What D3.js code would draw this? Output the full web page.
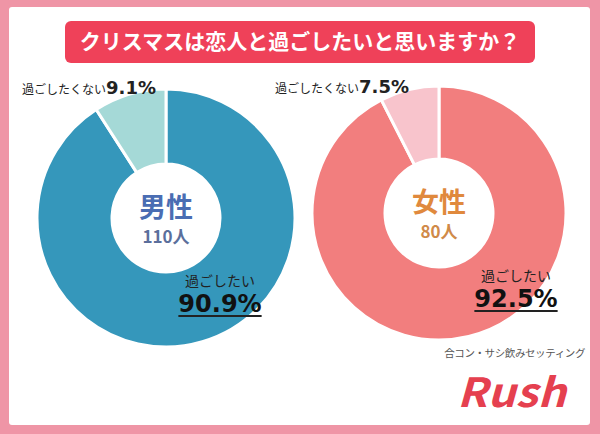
<!DOCTYPE html>
<html>
<head>
<meta charset="utf-8">
<script src="https://cdn.jsdelivr.net/npm/d3@7"></script>
<style>
  body { margin: 0; background: #fff; }
  text { font-family: "Noto Sans CJK JP", "Noto Sans", sans-serif; }
  .num { font-family: "DejaVu Sans", sans-serif; font-weight: bold; }
</style>
</head>
<body>
<svg id="chart" width="600" height="434"></svg>
<script>
// data
const groups = ["男性", "女性"];
const counts = [110, 80];
const yesPct = [90.9, 92.5];
const noPct = [9.1, 7.5];
const answers = ["過ごしたい", "過ごしたくない"];
const title = "クリスマスは恋人と過ごしたいと思いますか？";

const svg = d3.select("#chart");
const W = +svg.attr("width"), H = +svg.attr("height");

// pink frame + white panel
svg.append("rect").attr("width", W).attr("height", H).attr("fill", "#ef95a6");
svg.append("rect")
  .attr("x", 9).attr("y", 7).attr("width", 581).attr("height", 418)
  .attr("rx", 3).attr("fill", "#fff");

// title
svg.append("rect")
  .attr("x", 65).attr("y", 21).attr("width", 470).attr("height", 42)
  .attr("rx", 6).attr("fill", "#ef4159");
svg.append("text")
  .attr("x", 300).attr("y", 49)
  .attr("text-anchor", "middle")
  .attr("fill", "#fff")
  .attr("font-size", 21).attr("font-weight", "bold")
  .text(title);

const donuts = [
  { cx: 166, cy: 218, r: 129, colors: ["#3597bb", "#a5d9d7"], head: "#4a6db3", sub: "#5b6f9c",
    yesX: 220, yesY: 286, pctY: 312, noX: 22, noY: 94 },
  { cx: 439, cy: 213, r: 127, colors: ["#f27e7e", "#f8c4cc"], head: "#e0893d", sub: "#d08a48",
    yesX: 516, yesY: 281, pctY: 307, noX: 275, noY: 93 }
];

const pie = d3.pie().sort(null).value(d => d);

donuts.forEach((d, i) => {
  const g = svg.append("g").attr("transform", `translate(${d.cx},${d.cy})`);
  const arc = d3.arc().innerRadius(54).outerRadius(d.r);
  const color = d3.scaleOrdinal().domain(answers).range(d.colors);

  g.selectAll("path")
    .data(pie([yesPct[i], noPct[i]]))
    .enter().append("path")
      .attr("d", arc)
      .attr("fill", (p, j) => color(answers[j]))
      .attr("stroke", "#fff")
      .attr("stroke-width", 3);

  g.append("text")
    .attr("y", -1).attr("text-anchor", "middle")
    .attr("font-size", 27).attr("font-weight", "bold")
    .attr("fill", d.head)
    .text(groups[i]);
  g.append("text")
    .attr("y", 25).attr("text-anchor", "middle")
    .attr("font-size", 17).attr("font-weight", "bold")
    .attr("fill", d.sub)
    .text(counts[i] + "人");

  // "yes" label
  svg.append("text")
    .attr("x", d.yesX).attr("y", d.yesY)
    .attr("text-anchor", "middle")
    .attr("font-size", 14).attr("fill", "#222")
    .text(answers[0]);
  const pct = svg.append("text")
    .attr("class", "num")
    .attr("x", d.yesX).attr("y", d.pctY)
    .attr("text-anchor", "middle")
    .attr("font-size", 24).attr("fill", "#111")
    .text(yesPct[i].toFixed(1) + "%");
  const bb = pct.node().getBBox();
  svg.append("line")
    .attr("x1", bb.x).attr("x2", bb.x + bb.width)
    .attr("y1", d.pctY + 4).attr("y2", d.pctY + 4)
    .attr("stroke", "#222").attr("stroke-width", 2);

  // "no" label
  const no = svg.append("text")
    .attr("x", d.noX).attr("y", d.noY)
    .attr("fill", "#222");
  no.append("tspan").attr("font-size", 12).text(answers[1]);
  no.append("tspan").attr("class", "num").attr("font-size", 18).text(noPct[i].toFixed(1) + "%");
});

// brand
svg.append("text")
  .attr("x", 585).attr("y", 357)
  .attr("text-anchor", "end")
  .attr("font-size", 10.5).attr("letter-spacing", -0.4).attr("fill", "#555")
  .text("合コン・サシ飲みセッティング");
svg.append("text")
  .attr("x", 457).attr("y", 407)
  .attr("font-family", "Roboto, sans-serif")
  .attr("font-size", 40).attr("font-weight", "bold").attr("font-style", "italic")
  .attr("textLength", 109).attr("lengthAdjust", "spacingAndGlyphs")
  .attr("fill", "#e5404f")
  .text("Rush");
</script>
</body>
</html>
